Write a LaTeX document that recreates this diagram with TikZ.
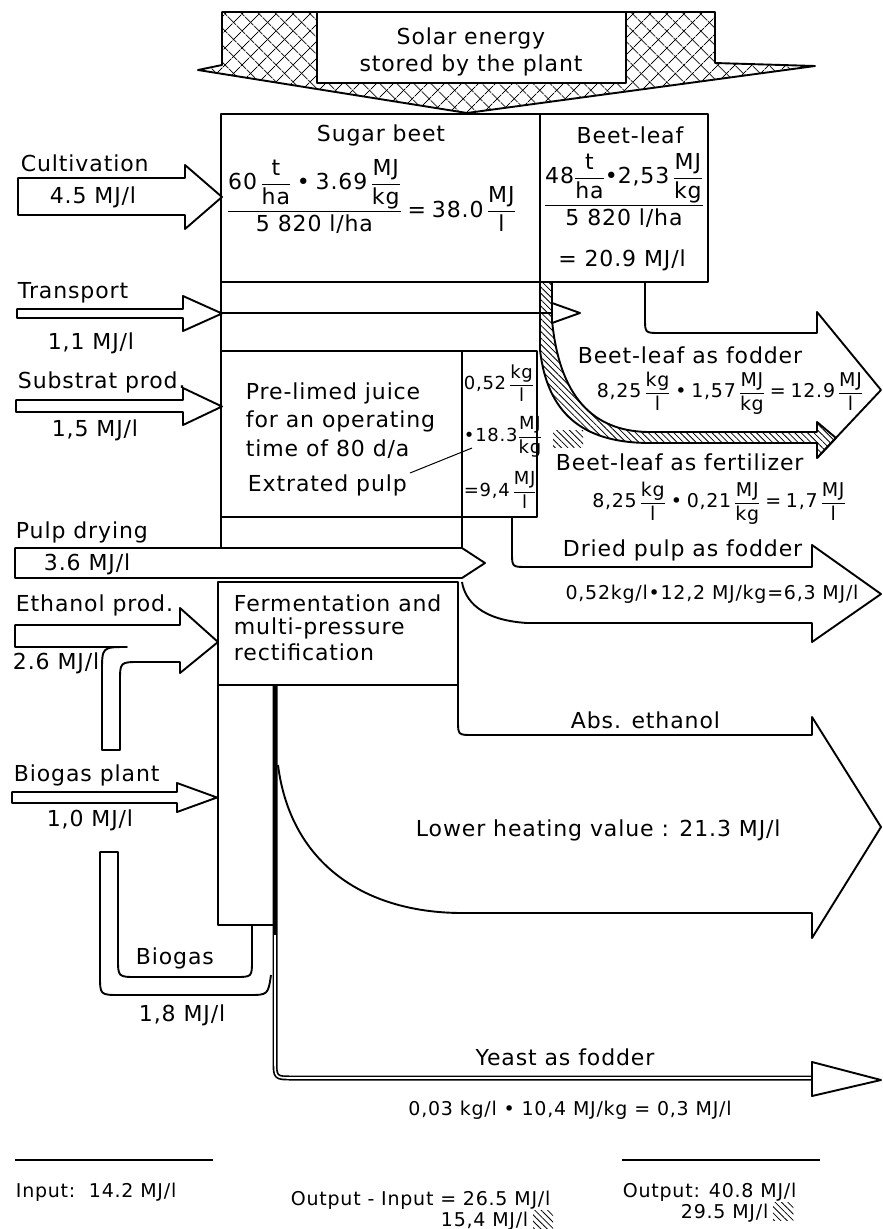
\documentclass[tikz,border=0pt]{standalone}
\usepackage{amsmath}
\usepackage{fontspec}
\setmainfont{DejaVu Sans}[LetterSpace=4]
\usetikzlibrary{patterns.meta}

\newcommand{\frc}[2]{\dfrac{\text{#1}}{\text{#2}}}

\begin{document}
\begin{tikzpicture}[
    x=1pt, y=-1pt,
    line width=1.9pt, line join=round,
    lbl/.style={font=\fontsize{22}{27}\selectfont, inner sep=0pt},
    lblw/.style={lbl, anchor=west},
    sml/.style={font=\fontsize{19}{22}\selectfont, inner sep=0pt},
    tny/.style={font=\fontsize{18}{18}\selectfont, inner sep=0pt, anchor=west},
    hatch/.style={pattern={Lines[angle=-45,distance=4.5pt,line width=0.8pt]}},
    xhatchA/.style={pattern={Lines[angle=45,distance=13pt,line width=0.9pt]}},
    xhatchB/.style={pattern={Lines[angle=-45,distance=13pt,line width=0.9pt]}}
]
\useasboundingbox (0,0) rectangle (883,1229);

% solar energy funnel
\fill[xhatchA] (198,70) -- (222,65) -- (222,12) -- (715,12) -- (715,63) -- (815,66) -- (467,113) -- cycle;
\fill[xhatchB] (198,70) -- (222,65) -- (222,12) -- (715,12) -- (715,63) -- (815,66) -- (467,113) -- cycle;
\draw (198,70) -- (222,65) -- (222,12) -- (715,12) -- (715,63) -- (815,66) -- (467,113) -- cycle;
\draw[fill=white] (317,12) rectangle (626,83);
\node[lbl, align=center] (solar) at (471,52) {Solar energy\\stored by the plant};

% sugar beet and beet-leaf
\draw (221,114) rectangle (540,282);
\draw (540,114) rectangle (708,282);
\node[lbl] (beet) at (381,135) {Sugar beet};
\node[lbl, anchor=base west] (beetcalc) at (226,217)
  {$\dfrac{\text{60}\,\frc{t}{ha}\;\text{•}\;\text{3.69}\,\frc{MJ}{kg}}{\text{5 820 l/ha}}\;\text{=}\;\text{38.0}\,\frc{MJ}{l}$};
\node[lbl] (leaf) at (630,135) {Beet-leaf};
\node[lbl, anchor=base] (leafcalc) at (624,211)
  {$\dfrac{\text{48}\frc{t}{ha}\text{•}\text{2,53}\,\frc{MJ}{kg}}{\text{5 820 l/ha}}$};
\node[lbl] (leafval) at (622,260) {= 20.9 MJ/l};

% process column
\draw (221,282) -- (221,548);
\draw (221,351) -- (537,351);
\draw (221,351) rectangle (462,517);
\draw (462,351) rectangle (537,517);
\draw (462,517) -- (462,548);
\node[lblw] (juice1) at (245,393) {Pre-limed juice};
\node[lblw] (juice2) at (245,421) {for an operating};
\node[lblw] (juice3) at (245,449) {time of 80 d/a};
\node[lblw] (pulp) at (247,485) {Extrated pulp};
\draw[line width=1pt] (410,473) -- (472,448);
\node[tny] (pulp1) at (463,383) {$\text{0,52}\,\frc{kg}{l}$};
\node[tny] (pulp2) at (463,437) {$\text{•18.3}\frc{MJ}{kg}$};
\node[tny] (pulp3) at (463,490) {$\text{=9,4}\,\frc{MJ}{l}$};

% beet-leaf as fertilizer (hatched)
\fill[hatch] (540,282) -- (540,350) .. controls (548,420) and (590,443) .. (650,443) -- (817,443) -- (817,458) -- (836,438) -- (817,422) -- (817,432) -- (650,432) .. controls (600,432) and (560,405) .. (552,320) -- (552,282) -- cycle;
\draw (540,282) -- (540,350) .. controls (548,420) and (590,443) .. (650,443) -- (817,443) -- (817,458) -- (836,438) -- (817,422) -- (817,432) -- (650,432) .. controls (600,432) and (560,405) .. (552,320) -- (552,282);
\fill[hatch] (553,430) rectangle (583,447);

% beet-leaf as fodder
\draw (645,282) -- (645,318) .. controls (645,333) .. (660,333) -- (817,333) -- (817,312) -- (881,390) -- (817,458);
\node[lbl] (fodder) at (690,355) {Beet-leaf as fodder};
\node[sml] (foddercalc) at (730,393) {$\text{8,25}\,\frc{kg}{l}\;\text{•}\;\text{1,57}\,\frc{MJ}{kg}\;\text{=}\;\text{12.9}\,\frc{MJ}{l}$};
\node[lblw] (fert) at (555,462) {Beet-leaf as fertilizer};
\node[sml] (fertcalc) at (719,503) {$\text{8,25}\,\frc{kg}{l}\;\text{•}\;\text{0,21}\,\frc{MJ}{kg}\;\text{=}\;\text{1,7}\,\frc{MJ}{l}$};

% inputs
\foreach \xl/\ytop/\ybot/\hup/\hdn/\xh/\xt in {18/178/215/165/229/185/222, 17/309/318/296/331/183/222, 16/400/412/388/425/183/222, 12/792/803/783/812/177/217}
  \draw (\xl,\ytop) -- (\xh,\ytop) -- (\xh,\hup) -- (\xt,{(\hup+\hdn)/2}) -- (\xh,\hdn) -- (\xh,\ybot) -- (\xl,\ybot) -- cycle;
\draw (222,313) -- (552,313);
\draw[fill=white] (552,303) -- (580,313) -- (552,323) -- cycle;
\node[lblw] (cult) at (20,163) {Cultivation};
\node[lbl] (cultv) at (93,197) {4.5 MJ/l};
\node[lblw] (trans) at (17,293) {Transport};
\node[lbl] (transv) at (91,343) {1,1 MJ/l};
\node[lblw] (subst) at (17,382) {Substrat prod.};
\node[lbl] (substv) at (95,430) {1,5 MJ/l};

% pulp drying and dried pulp
\draw (15,548) -- (462,548) -- (485,563) -- (462,578) -- (15,578) -- cycle;
\node[lblw] (dry) at (15,532) {Pulp drying};
\node[lblw] (dryv) at (43,564) {3.6 MJ/l};
\draw (512,517) -- (512,552) .. controls (512,567) .. (527,567) -- (812,567) -- (812,545) -- (881,594) -- (812,642) -- (812,623) -- (527,623) .. controls (480,620) and (465,600) .. (462,582);
\node[lblw] (dried) at (562,550) {Dried pulp as fodder};
\node[sml] (driedcalc) at (712,594) {0,52kg/l•12,2 MJ/kg=6,3 MJ/l};

% fermentation
\draw (218,582) rectangle (458,685);
\draw (218,685) rectangle (275,925);
\node[lblw] (ferm1) at (233,603) {Fermentation and};
\node[lblw] (ferm2) at (233,628) {multi-pressure};
\node[lblw] (ferm3) at (233,652) {rectification};

% ethanol prod. with biogas return
\draw (15,625) -- (180,625) -- (180,608) -- (218,642) -- (180,673) -- (180,662) -- (140,662) .. controls (120,662) .. (120,682) -- (120,750) -- (102,750) -- (102,672) .. controls (102,647) .. (127,647) -- (15,647) -- cycle;
\node[lblw] (eth) at (15,605) {Ethanol prod.};
\node[lblw] (ethv) at (12,663) {2.6 MJ/l};
\node[lblw] (bgp) at (13,775) {Biogas plant};
\node[lbl] (bgpv) at (90,820) {1,0 MJ/l};
\draw (252,925) -- (252,960) .. controls (252,977) .. (235,977) -- (137,977) .. controls (118,977) .. (118,958) -- (118,852) -- (100,852) -- (100,975) .. controls (100,995) .. (120,995) -- (248,995) .. controls (268,995) .. (271,975);
\node[lblw] (bg) at (135,958) {Biogas};
\node[lblw] (bgv) at (138,1015) {1,8 MJ/l};

% absolute ethanol
\draw (458,685) -- (458,720) .. controls (458,735) .. (473,735) -- (812,735) -- (812,717) -- (881,827) -- (812,938) -- (812,913) -- (460,913) .. controls (360,912) and (290,860) .. (278,765);
\node[lblw] (abs) at (570,720) {Abs. ethanol};
\node[lblw] (lhv) at (415,830) {Lower heating value : 21.3 MJ/l};

% yeast
\draw[line width=5pt] (275,685) -- (275,1060) .. controls (275,1078) .. (293,1078) -- (812,1078);
\draw[white, line width=1.6pt] (275,935) -- (275,1060) .. controls (275,1078) .. (293,1078) -- (814,1078);
\draw[fill=white] (812,1062) -- (881,1080) -- (812,1096) -- cycle;
\node[lbl] (yeast) at (565,1057) {Yeast as fodder};
\node[sml] (yeastcalc) at (570,1110) {0,03 kg/l • 10,4 MJ/kg = 0,3 MJ/l};

% balance
\draw (15,1160) -- (213,1160);
\draw (622,1160) -- (820,1160);
\node[sml, anchor=west] (in) at (15,1192) {Input:\ \ 14.2 MJ/l};
\node[sml, anchor=west] (out) at (622,1192) {Output: 40.8 MJ/l};
\node[sml, anchor=west] (outh) at (680,1213) {29.5 MJ/l};
\fill[hatch] ([xshift=4pt]outh.north east) rectangle ++(20,18);
\node[sml, anchor=west] (diff) at (290,1200) {Output - Input = 26.5 MJ/l};
\node[sml, anchor=west] (diffh) at (440,1221) {15,4 MJ/l};
\fill[hatch] ([xshift=4pt]diffh.north east) rectangle ++(20,18);
\end{tikzpicture}
\end{document}
